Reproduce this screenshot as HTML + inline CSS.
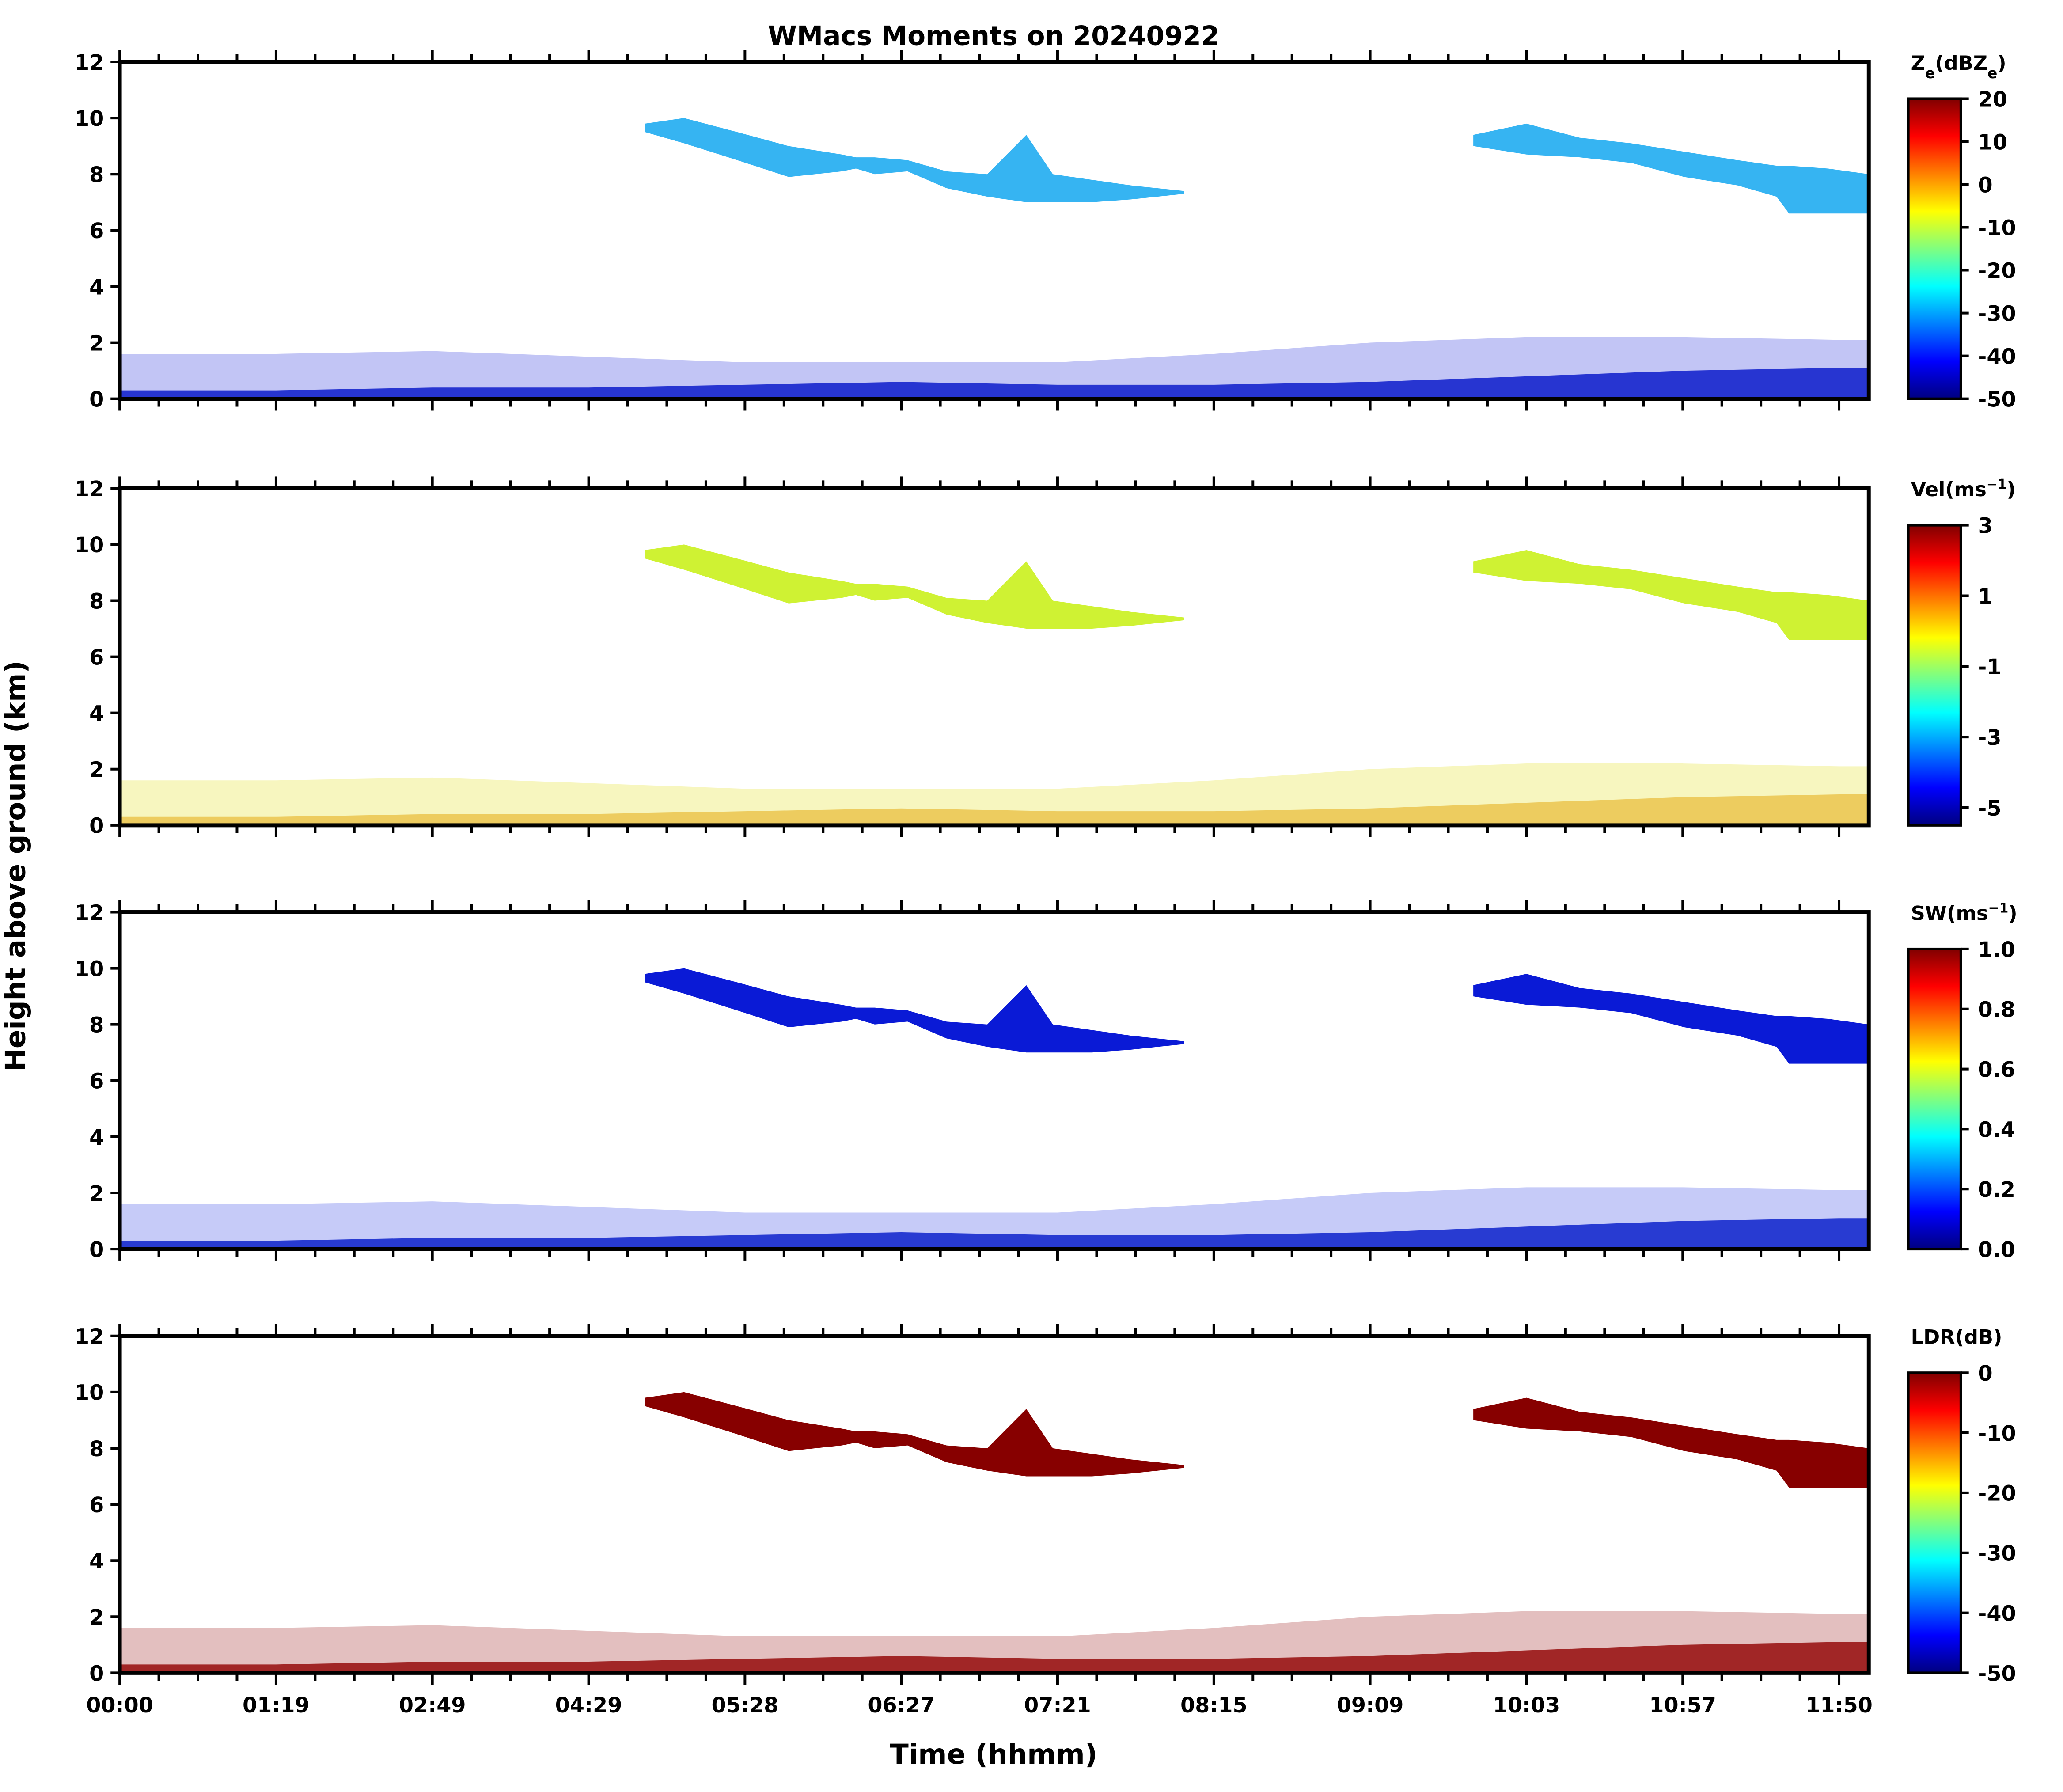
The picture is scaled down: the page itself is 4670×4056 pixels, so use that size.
<!DOCTYPE html>
<html><head><meta charset="utf-8"><style>
html,body{margin:0;padding:0;background:#fff;}
svg{display:block;font-family:"DejaVu Sans","Liberation Sans",sans-serif;font-weight:bold;}
</style></head><body>
<svg id="chart" xmlns="http://www.w3.org/2000/svg" width="4670" height="4056" viewBox="0 0 1567.6 1361.5">
<defs>
<linearGradient id="jet" x1="0" y1="1" x2="0" y2="0">
<stop offset="0" stop-color="#000080"/><stop offset="0.125" stop-color="#0000ff"/>
<stop offset="0.375" stop-color="#00ffff"/><stop offset="0.625" stop-color="#ffff00"/>
<stop offset="0.875" stop-color="#ff0000"/><stop offset="1" stop-color="#800000"/>
</linearGradient>
</defs>
<text x="755" y="34" text-anchor="middle" font-size="20">WMacs Moments on 20240922</text>
<text transform="translate(19,658) rotate(-90)" text-anchor="middle" font-size="21">Height above ground (km)</text>
<text x="755" y="1340" text-anchor="middle" font-size="21">Time (hhmm)</text>
</svg>
<script>
// ---- data (time in tick-units, height in km) ----
const timeTickLabels = ["00:00","01:19","02:49","04:29","05:28","06:27","07:21","08:15","09:09","10:03","10:57","11:50"];
const heightTicks = [0,2,4,6,8,10,12];
const cloudATimes = [3.36,3.61,3.95,4.28,4.62,4.71,4.83,5.04,5.29,5.55,5.80,5.97,6.22,6.47,6.64,6.81];
const cloudATops  = [9.8,10.0,9.5,9.0,8.7,8.6,8.6,8.5,8.1,8.0,9.4,8.0,7.8,7.6,7.5,7.4];
const cloudABases = [9.5,9.1,8.5,7.9,8.1,8.2,8.0,8.1,7.5,7.2,7.0,7.0,7.0,7.1,7.2,7.3];
const cloudBTimes = [8.66,9.00,9.34,9.67,10.01,10.35,10.60,10.68,10.93,11.19];
const cloudBTops  = [9.4,9.8,9.3,9.1,8.8,8.5,8.3,8.3,8.2,8.0];
const cloudBBases = [9.0,8.7,8.6,8.4,7.9,7.6,7.2,6.6,6.6,6.6];
const clutterTimes = [0,1,2,3,4,5,6,7,8,9,10,11,11.19];
const clutterTops  = [1.6,1.6,1.7,1.5,1.3,1.3,1.3,1.6,2.0,2.2,2.2,2.1,2.1];
const clutterDense = [0.3,0.3,0.4,0.4,0.5,0.6,0.5,0.5,0.6,0.8,1.0,1.1,1.1];
const panelNames = ["reflectivity","velocity","spectrum-width","ldr"];
const cbTickLabels = [
 ["20","10","0","-10","-20","-30","-40","-50"],
 ["3","1","-1","-3","-5"],
 ["1.0","0.8","0.6","0.4","0.2","0.0"],
 ["0","-10","-20","-30","-40","-50"]];
const cbTickValues = [[20,10,0,-10,-20,-30,-40,-50],[3,1,-1,-3,-5],[1,0.8,0.6,0.4,0.2,0],[0,-10,-20,-30,-40,-50]];
const cbRanges = [[-50,20],[-5.5,3],[0,1],[-50,0]];
const cloudColors = ["#36b4f2","#cff233","#0a1ad6","#870000"];
const clutterColors = ["#0a18d8","#e6e02a","#1a2ee2","#8f0000"];
const denseColors = ["#0010c8","#e6b020","#0016c8","#900000"];
const cbTitles = ['Z<tspan font-size="11" baseline-shift="sub">e</tspan>(dBZ<tspan font-size="11" baseline-shift="sub">e</tspan>)','Vel(ms<tspan font-size="10" baseline-shift="super">−1</tspan>)','SW(ms<tspan font-size="10" baseline-shift="super">−1</tspan>)','LDR(dB)'];

const NS="http://www.w3.org/2000/svg";
const svg=document.getElementById('chart');
const X0=91,X1=1420,PH=256,panelTops=[47,371,693,1015],TMAX=11.19;
function mk(tag,attrs,parent){const e=document.createElementNS(NS,tag);for(const k in attrs)e.setAttribute(k,attrs[k]);(parent||svg).appendChild(e);return e;}
const xs=t=>X0+(t/TMAX)*(X1-X0);
panelTops.forEach((top,p)=>{
  const ys=h=>top+PH-(h/12)*PH;
  const g=mk('g',{});
  
  
  let pts=clutterTimes.map((t,i)=>xs(t)+','+ys(clutterTops[i])).join(' ');
  const c1=mk('polygon',{points:xs(0)+','+ys(0)+' '+pts+' '+xs(TMAX)+','+ys(0),fill:clutterColors[p],'fill-opacity':p==1?0.3:0.25},g);
  
  
  pts=clutterTimes.map((t,i)=>xs(t)+','+ys(clutterDense[i])).join(' ');
  const c2=mk('polygon',{points:xs(0)+','+ys(0)+' '+pts+' '+xs(TMAX)+','+ys(0),fill:denseColors[p],'fill-opacity':p==1?0.6:0.8},g);
  
  
  [[cloudATimes,cloudATops,cloudABases],[cloudBTimes,cloudBTops,cloudBBases]].forEach((c,ci)=>{
    const up=c[0].map((t,i)=>xs(t)+','+ys(c[1][i]));
    const dn=c[0].map((t,i)=>xs(t)+','+ys(c[2][i])).reverse();
    const cl=mk('polygon',{points:up.concat(dn).join(' '),fill:cloudColors[p]},g);
    
    
  });
  const fr=mk('rect',{x:X0,y:top,width:X1-X0,height:PH,fill:'none',stroke:'#000','stroke-width':3},g);
  
  
  heightTicks.forEach(h=>{
    mk('line',{x1:X0-7,x2:X0,y1:ys(h),y2:ys(h),stroke:'#000','stroke-width':2},g);
    const tl=mk('text',{x:X0-12,y:ys(h)+6,'text-anchor':'end','font-size':16},g);
    tl.textContent=h;
    
    
  });
  const step=(X1-X0)/TMAX;
  for(let i=0;i*step/4<=X1-X0+0.5;i++){
    const x=X0+i*step/4, major=i%4===0, L=major?9:6;
    mk('line',{x1:x,x2:x,y1:top,y2:top-L,stroke:'#000','stroke-width':2},g);
    mk('line',{x1:x,x2:x,y1:top+PH,y2:top+PH+L,stroke:'#000','stroke-width':2},g);
  }
  if(p===3){
    timeTickLabels.forEach((lab,i)=>{
      const tl=mk('text',{x:xs(i),y:top+PH+30,'text-anchor':'middle','font-size':16},g);
      tl.textContent=lab;
      
      
    });
  }
  const cbTop=top+28,cbH=PH-28,cx=1450,cw=40;
  const cb=mk('rect',{x:cx,y:cbTop,width:cw,height:cbH,fill:'url(#jet)',stroke:'#000','stroke-width':2},g);
  
  
  const r=cbRanges[p];
  cbTickValues[p].forEach((v,i)=>{
    const y=cbTop+cbH-(v-r[0])/(r[1]-r[0])*cbH;
    mk('line',{x1:cx+cw,x2:cx+cw+6,y1:y,y2:y,stroke:'#000','stroke-width':2},g);
    const tl=mk('text',{x:cx+cw+13,y:y+6,'font-size':16},g);
    tl.textContent=cbTickLabels[p][i];
    
    
  });
  const ct=mk('text',{x:1452,y:top+6,'font-size':15},g);
  ct.innerHTML=cbTitles[p];
  
  
});
</script>
</body></html>
